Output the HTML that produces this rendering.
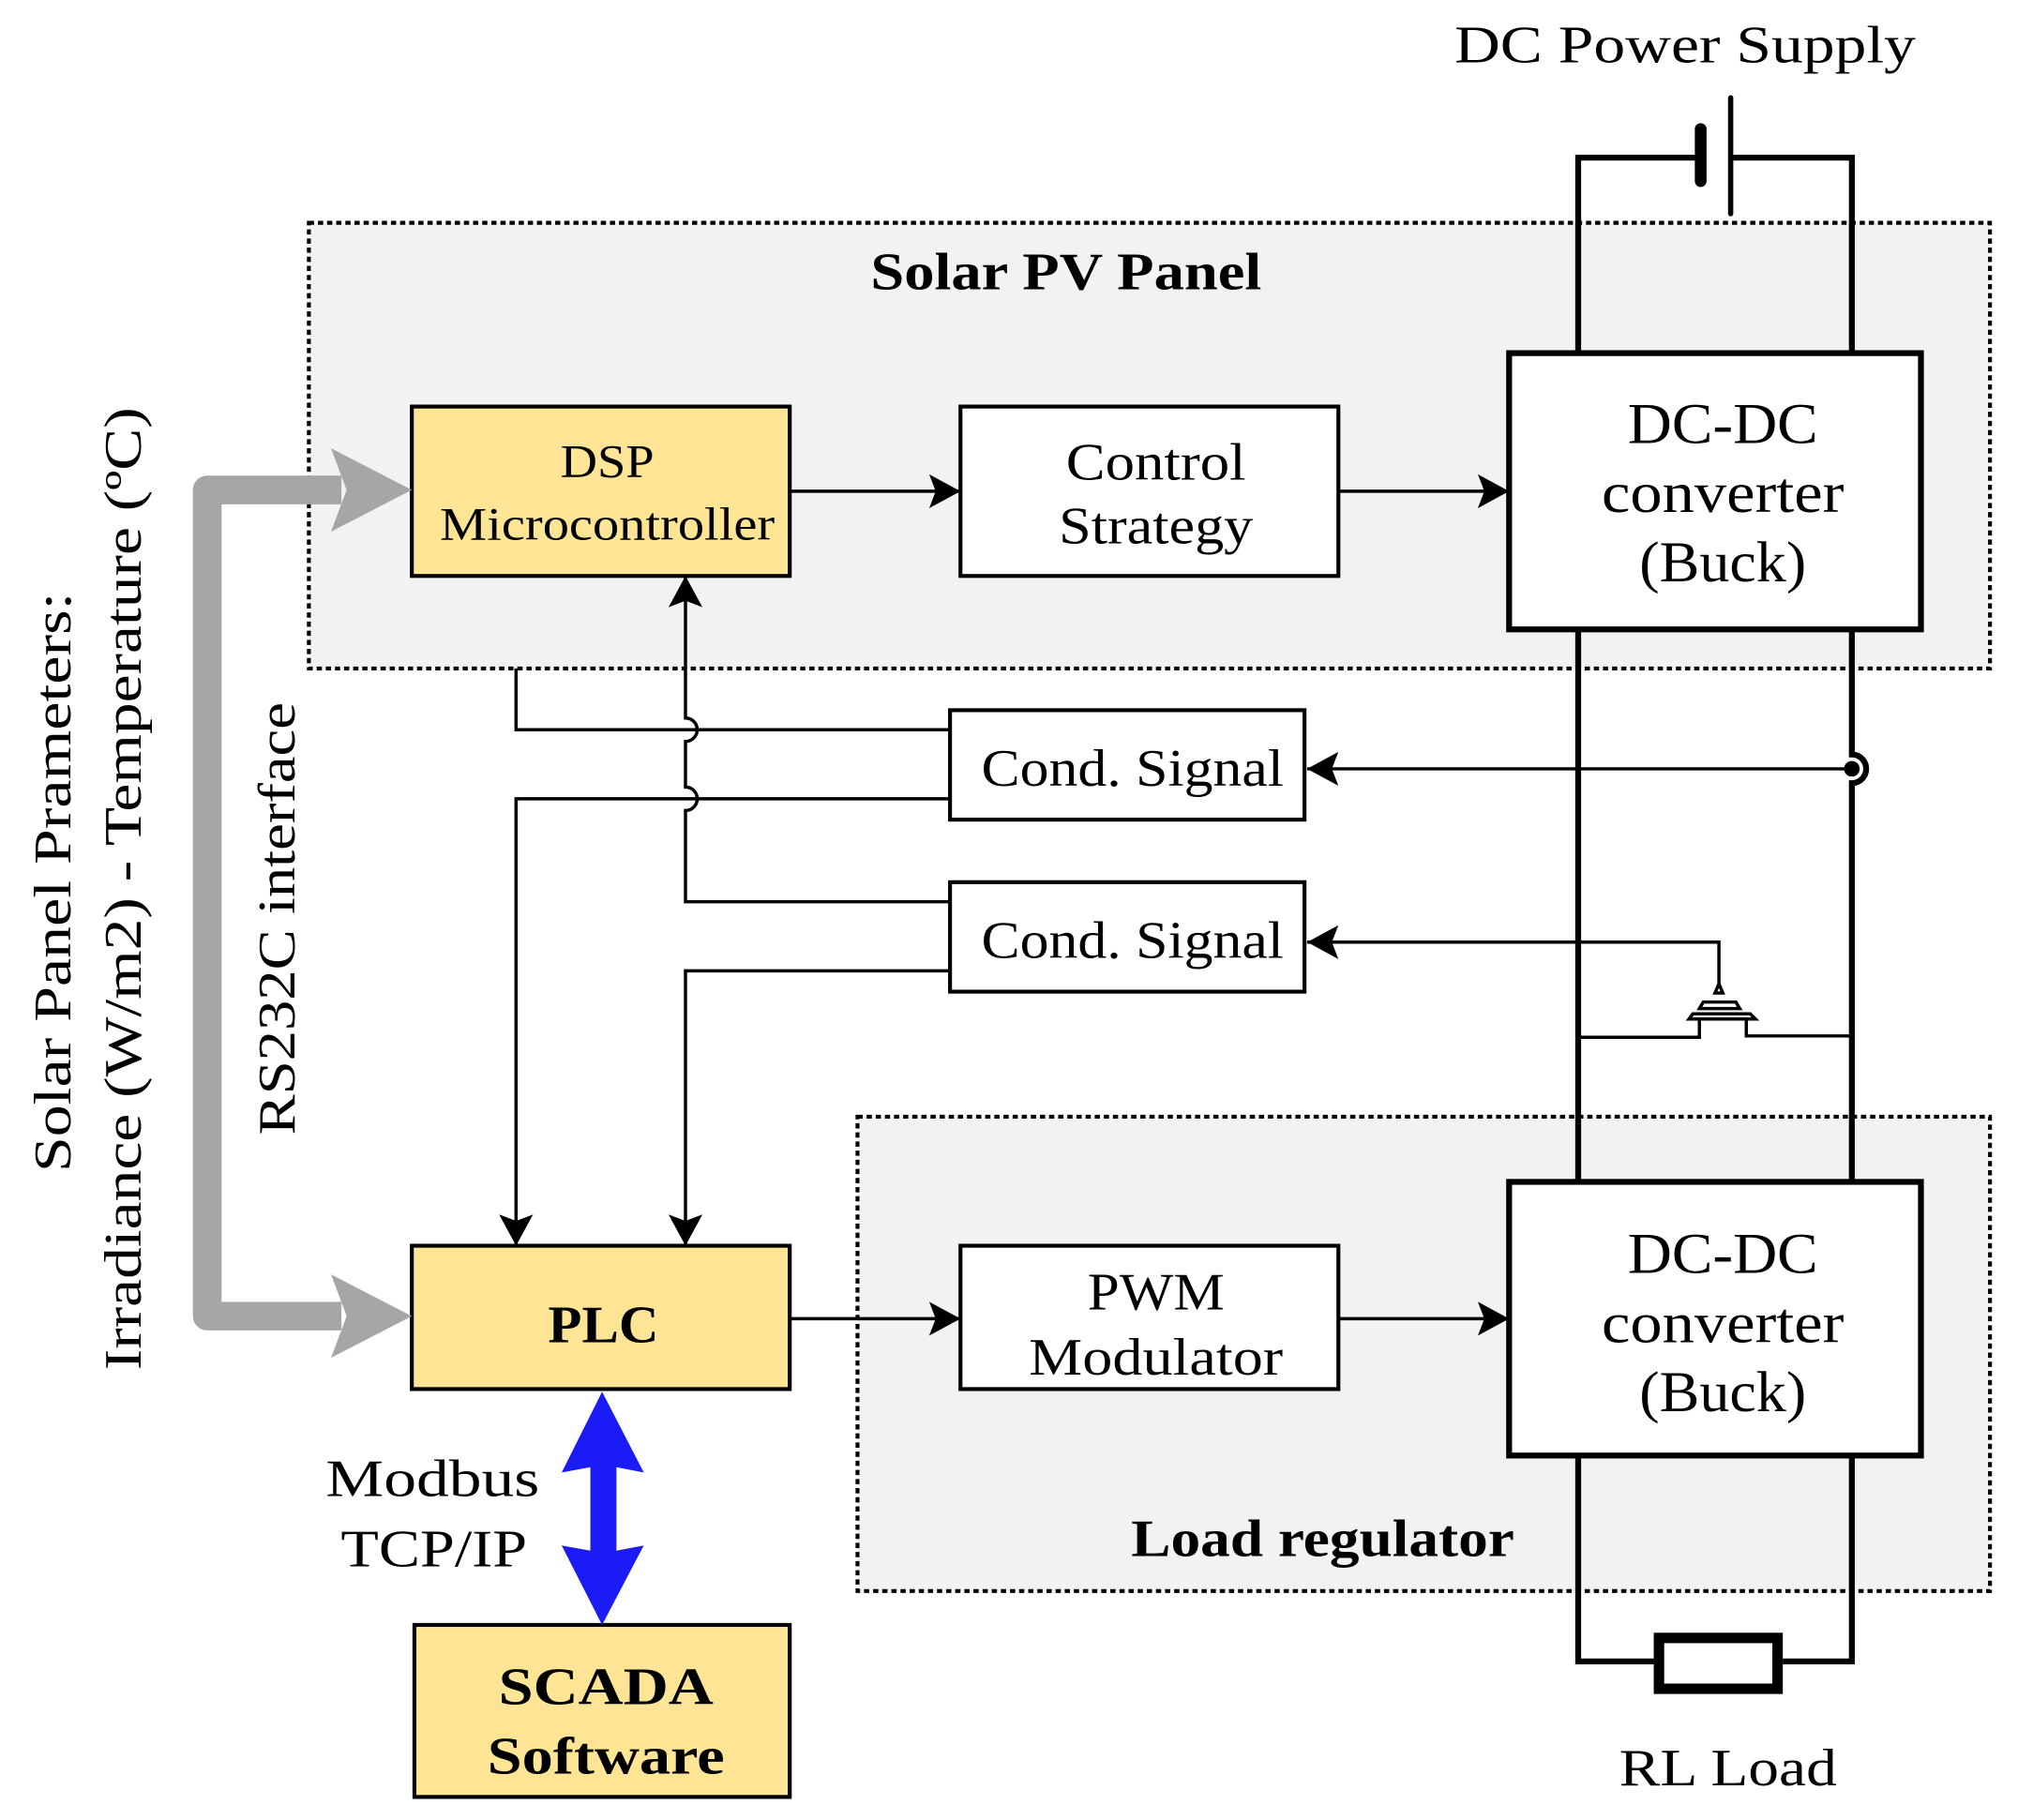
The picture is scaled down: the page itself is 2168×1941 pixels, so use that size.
<!DOCTYPE html>
<html><head><meta charset="utf-8"><style>
html,body{margin:0;padding:0;background:#fff;}
svg{display:block;}
text{font-family:"Liberation Serif",serif;fill:#000;}
</style></head><body>
<svg width="2168" height="1941" viewBox="0 0 1560 1396.7" preserveAspectRatio="none" xmlns="http://www.w3.org/2000/svg">
<defs>
<marker id="ahb" markerWidth="26" markerHeight="26" refX="24" refY="13" orient="auto" markerUnits="userSpaceOnUse">
<path d="M0,0 L24,13 L0,26 L5,13 Z" fill="#000"/>
</marker>
</defs>
<rect x="237" y="171" width="1290" height="342" fill="#f2f2f2" stroke="#000" stroke-width="3" stroke-dasharray="4,3"/>
<rect x="658" y="857" width="869" height="364" fill="#f2f2f2" stroke="#000" stroke-width="3" stroke-dasharray="4,3"/>

<g stroke="#000" stroke-width="4.5" fill="none">
<path d="M1211,271 V121 H1305"/>
<path d="M1328,121 H1421 V271"/>
<path d="M1211,483 V907"/>
<path d="M1421,483 V579 A11,11 0 0 1 1421,601 V907"/>
<path d="M1211,1117 V1275 H1269"/>
<path d="M1368,1275 H1421 V1117"/>
<line x1="1305" y1="99" x2="1305" y2="139" stroke-width="9" stroke-linecap="round"/>
<line x1="1328" y1="75" x2="1328" y2="164" stroke-width="4" stroke-linecap="round"/>
<rect x="1273" y="1257" width="91" height="39" stroke-width="8"/>
</g>

<g stroke="#000" stroke-width="2.5" fill="none">
<path d="M1211,796 H1304 V782"/>
<path d="M1340,782 V795 H1421"/>
<path d="M1296,782 L1299,778 H1343 L1347,782 Z" fill="#fff"/>
<path d="M1304,774 L1307,769 H1332 L1335,774 Z" fill="#fff"/>
<path d="M1316,762 L1319,755 L1322,762 Z" fill="#fff"/>
<path d="M1319,755 V723 H1003" marker-end="url(#ahb)"/>
</g>
<circle cx="1421" cy="590" r="6" fill="#000"/>
<line x1="1421" y1="590" x2="1003" y2="590" stroke="#000" stroke-width="2.5" marker-end="url(#ahb)"/>

<rect x="316" y="312" width="290" height="130" fill="#fee595" stroke="#000" stroke-width="3"/>
<rect x="737" y="312" width="290" height="130" fill="#fff" stroke="#000" stroke-width="3"/>
<rect x="1158" y="271" width="316" height="212" fill="#fff" stroke="#000" stroke-width="4.5"/>
<rect x="729" y="545" width="272" height="84" fill="#fff" stroke="#000" stroke-width="3"/>
<rect x="729" y="677" width="272" height="84" fill="#fff" stroke="#000" stroke-width="3"/>
<rect x="316" y="956" width="290" height="110" fill="#fee595" stroke="#000" stroke-width="3"/>
<rect x="737" y="956" width="290" height="110" fill="#fff" stroke="#000" stroke-width="3"/>
<rect x="1158" y="907" width="316" height="210" fill="#fff" stroke="#000" stroke-width="4.5"/>
<rect x="318" y="1247" width="288" height="132" fill="#fee595" stroke="#000" stroke-width="3"/>

<g stroke="#000" stroke-width="2.5" fill="none">
<line x1="606" y1="377" x2="737" y2="377" marker-end="url(#ahb)"/>
<line x1="1027" y1="377" x2="1158" y2="377" marker-end="url(#ahb)"/>
<line x1="606" y1="1012" x2="737" y2="1012" marker-end="url(#ahb)"/>
<line x1="1027" y1="1012" x2="1158" y2="1012" marker-end="url(#ahb)"/>
<path d="M396,513 V560 H729"/>
<path d="M729,613 H396 V956" marker-end="url(#ahb)"/>
<path d="M729,692 H526 V622 A9,9 0 0 0 526,604 V569 A9,9 0 0 0 526,551 V442" marker-end="url(#ahb)"/>
<path d="M729,745 H526 V956" marker-end="url(#ahb)"/>
</g>

<path d="M262,376 H159 V1010 H262" stroke="#a6a6a6" stroke-width="22" fill="none" stroke-linejoin="round"/>
<path d="M316,376 L254,344 L266,376 L254,408 Z" fill="#a6a6a6"/>
<path d="M316,1010 L254,978 L266,1010 L254,1042 Z" fill="#a6a6a6"/>

<path d="M462,1068 L494,1130 L473,1126 L473,1190 L494,1186 L462,1247 L431,1186 L453,1190 L453,1126 L431,1130 Z" fill="#1b1bf5"/>

<g font-size="40" text-anchor="middle">
<text x="1293" y="48" textLength="354" lengthAdjust="spacingAndGlyphs">DC Power Supply</text>
<text x="818" y="222" font-weight="bold" textLength="300" lengthAdjust="spacingAndGlyphs">Solar PV Panel</text>
<text x="466" y="366" font-size="36" textLength="72" lengthAdjust="spacingAndGlyphs">DSP</text>
<text x="466" y="414" font-size="36" textLength="257" lengthAdjust="spacingAndGlyphs">Microcontroller</text>
<text x="887" y="368" textLength="138" lengthAdjust="spacingAndGlyphs">Control</text>
<text x="887" y="417" textLength="149" lengthAdjust="spacingAndGlyphs">Strategy</text>
<text x="1322" y="340" font-size="44" textLength="146" lengthAdjust="spacingAndGlyphs">DC-DC</text>
<text x="1322" y="393" font-size="44" textLength="186" lengthAdjust="spacingAndGlyphs">converter</text>
<text x="1322" y="446" font-size="44" textLength="128" lengthAdjust="spacingAndGlyphs">(Buck)</text>
<text x="869" y="603" textLength="232" lengthAdjust="spacingAndGlyphs">Cond. Signal</text>
<text x="869" y="735" textLength="232" lengthAdjust="spacingAndGlyphs">Cond. Signal</text>
<text x="463" y="1030" font-weight="bold" textLength="85" lengthAdjust="spacingAndGlyphs">PLC</text>
<text x="887" y="1005" textLength="105" lengthAdjust="spacingAndGlyphs">PWM</text>
<text x="887" y="1055" textLength="195" lengthAdjust="spacingAndGlyphs">Modulator</text>
<text x="1322" y="977" font-size="44" textLength="146" lengthAdjust="spacingAndGlyphs">DC-DC</text>
<text x="1322" y="1030" font-size="44" textLength="186" lengthAdjust="spacingAndGlyphs">converter</text>
<text x="1322" y="1083" font-size="44" textLength="128" lengthAdjust="spacingAndGlyphs">(Buck)</text>
<text x="1015" y="1194" font-weight="bold" textLength="294" lengthAdjust="spacingAndGlyphs">Load regulator</text>
<text x="465" y="1308" font-weight="bold" textLength="165" lengthAdjust="spacingAndGlyphs">SCADA</text>
<text x="465" y="1361" font-weight="bold" textLength="182" lengthAdjust="spacingAndGlyphs">Software</text>
<text x="332" y="1148" textLength="164" lengthAdjust="spacingAndGlyphs">Modbus</text>
<text x="333" y="1202" textLength="143" lengthAdjust="spacingAndGlyphs">TCP/IP</text>
<text x="1326" y="1370" textLength="167" lengthAdjust="spacingAndGlyphs">RL Load</text>
<text transform="translate(54,677) rotate(-90)" textLength="445" lengthAdjust="spacingAndGlyphs">Solar Panel Prameters:</text>
<text transform="translate(108,682) rotate(-90)" textLength="739" lengthAdjust="spacingAndGlyphs">Irradiance (W/m2) - Temperature (ºC)</text>
<text transform="translate(226,705) rotate(-90)" textLength="332" lengthAdjust="spacingAndGlyphs">RS232C interface</text>
</g>
</svg>
</body></html>
